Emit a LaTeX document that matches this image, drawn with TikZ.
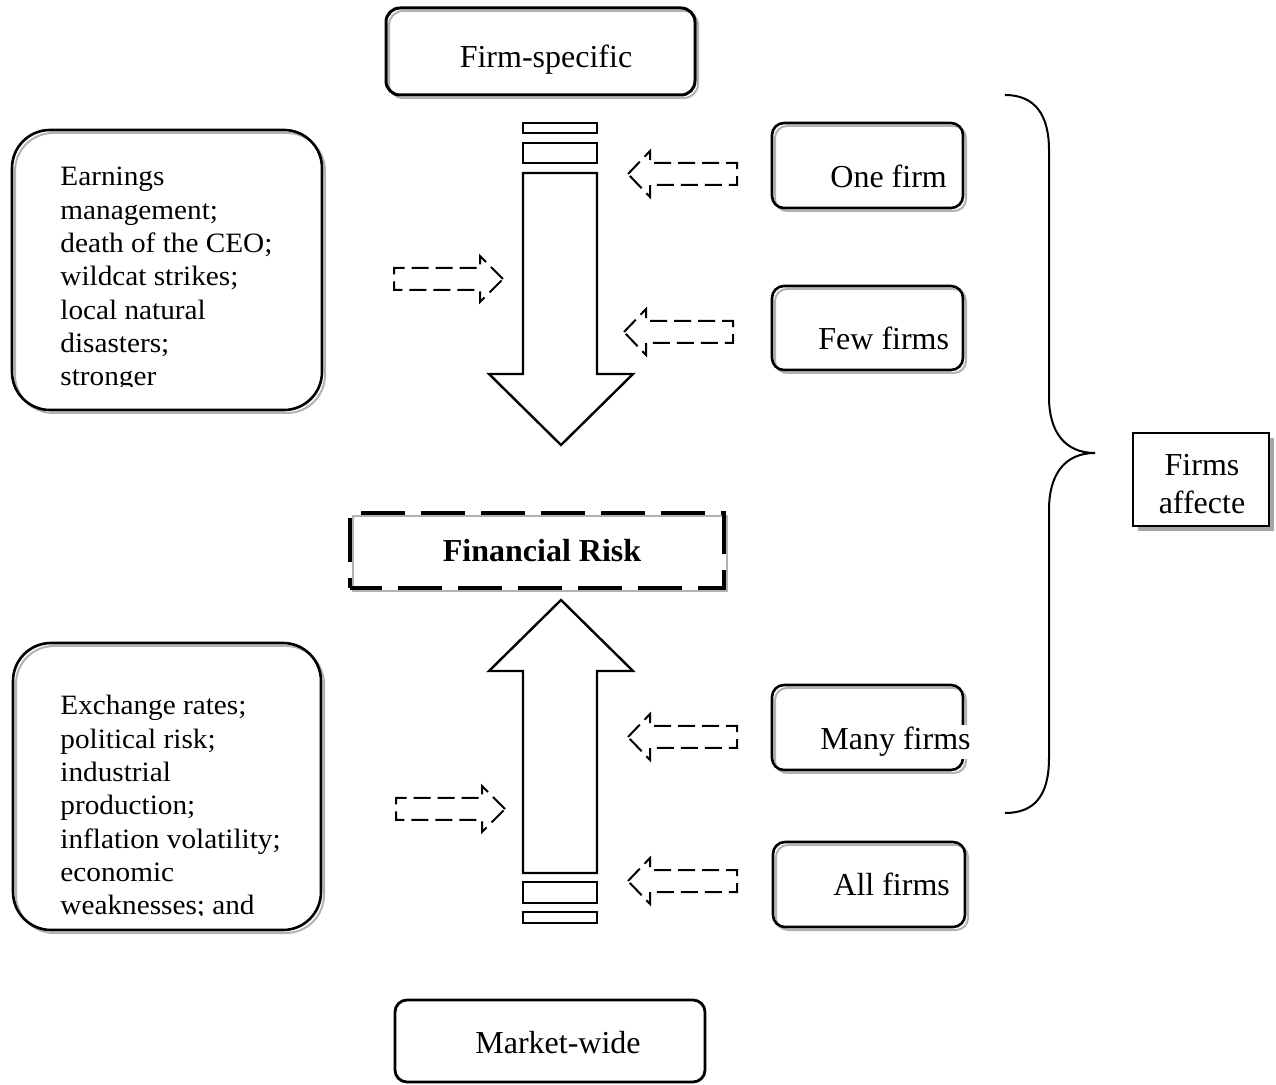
\documentclass[tikz,border=0pt]{standalone}
\usepackage{fontspec}
\setmainfont{Liberation Serif}
\newfontfamily\listfont[FakeStretch=1.045]{Liberation Serif}
\usepackage{xcolor}
\usepackage{tikz}
\usetikzlibrary{positioning}
\usetikzlibrary{shapes, arrows, shadows}

\begin{document}
\begin{tikzpicture}[
    x=0.5pt, y=-0.5pt,% one unit is one pixel of the page
    font=\fontsize{16}{19}\selectfont,
       box/.style = {draw, line width=1.3pt, rounded corners=6pt,
                     general shadow={draw=gray!60, solid, line width=1pt,
                                     shadow xshift=1.5pt, shadow yshift=-1.5pt}},% grey offset line
       txt/.style = {inner sep=0pt, anchor=base},
      list/.style = {inner sep=0pt, anchor=north west, align=left,
                     font=\listfont\fontsize{14}{16.65}\selectfont},
      hint/.style = {draw, line width=1pt, dash pattern=on 8.5pt off 3.5pt},% hollow dashed arrows
     block/.style = {draw, line width=1.2pt}
    ]
    \useasboundingbox (0,0) rectangle (1276,1085);

    % boxes
    \node (fs) [box, rounded corners=7pt, line width=1.5pt, minimum width=154.5pt, minimum height=43.5pt] at (540.5,51.5) {};
    \node (earn) [box, rounded corners=19pt, minimum width=155pt, minimum height=140pt] at (167,270) {};
    \node (exch) [box, rounded corners=19pt, minimum width=154pt, minimum height=143.5pt] at (167,786.5) {};
    \node (one) [box, minimum width=95.5pt, minimum height=42.5pt] at (867.5,165.5) {};
    \node (few) [box, minimum width=95.5pt, minimum height=42pt] at (867.5,328) {};
    \node (many) [box, minimum width=95.5pt, minimum height=42.5pt] at (867.5,727.5) {};
    \node (all) [box, minimum width=96pt, minimum height=42.5pt] at (869,884.5) {};
    \node (risk) [box, sharp corners, line width=2pt, dash pattern=on 22pt off 8pt, dash phase=6pt,
                  minimum width=187pt, minimum height=37.5pt] at (537,550.5) {};
    \node (mkt) [draw, line width=1.4pt, rounded corners=6pt,
                 minimum width=155pt, minimum height=41pt] at (550,1041) {};
    \node (aff) [draw, line width=1pt, fill=white,
                 drop shadow={shadow xshift=2.5pt, shadow yshift=-2.5pt, fill=gray!70, opacity=1},
                 minimum width=68pt, minimum height=46.5pt] at (1200.5,480) {};

    % labels
    \node (fslabel) [txt] at (546,68) {Firm-specific};
    \node (onelabel) [txt, anchor=base west] at (830,188) {One firm};
    \node (fewlabel) [txt, anchor=base west] at (818,350) {Few firms};
    \node (manylabel) [txt, anchor=base west, fill=white, inner sep=1pt] at (818,750) {Many firms};
    \node (alllabel) [txt, anchor=base west] at (833,895) {All firms};
    \node (risklabel) [txt, font=\fontsize{16}{19}\selectfont\bfseries] at (542,562) {Financial Risk};
    \node (mktlabel) [txt] at (558,1053) {Market-wide};
    \node (afflabel) [inner sep=0pt, anchor=north, align=center,
                      font=\fontsize{16}{19}\selectfont] at (1202,454) {Firms\\affecte};

    \begin{scope}
        \clip (20,140) rectangle (318,387);
        \node (earnlist) [list] at (60,167) {Earnings\\management;\\death of the CEO;\\wildcat strikes;\\local natural\\disasters;\\stronger};
    \end{scope}
    \begin{scope}
        \clip (20,650) rectangle (318,915);
        \node (exchlist) [list] at (60,695) {Exchange rates;\\political risk;\\industrial\\production;\\inflation volatility;\\economic\\weaknesses; and};
    \end{scope}

    % big arrows
    \draw[block] (523,123) rectangle (597,133);
    \draw[block] (523,143) rectangle (597,163);
    \draw[block] (523,173) -- (597,173) -- (597,374) -- (633,374) -- (561,445)
        -- (489,374) -- (523,374) -- cycle;
    \draw[block] (561,600) -- (633,671) -- (597,671) -- (597,873) -- (523,873)
        -- (523,671) -- (489,671) -- cycle;
    \draw[block] (523,882) rectangle (597,903);
    \draw[block] (523,912) rectangle (597,923);

    % dashed arrows
    \foreach \tx/\ty in {628/174, 624/332, 628/737, 628/881}
        \draw[hint, shift={(\tx,\ty)}] (0,0) -- (22,-23) -- (22,-11) -- (109,-11)
            -- (109,11) -- (22,11) -- (22,23) -- cycle;
    \foreach \tx/\ty in {503/279, 505/809}
        \draw[hint, shift={(\tx,\ty)}, xscale=-1] (0,0) -- (23,-23) -- (23,-11) -- (109,-11)
            -- (109,11) -- (23,11) -- (23,23) -- cycle;

    % brace
    \draw[line width=1pt] (1005,95) .. controls (1035,95) and (1049,115) .. (1049,150)
        -- (1049,397) .. controls (1049,432) and (1065,453) .. (1095,453)
        .. controls (1065,453) and (1049,474) .. (1049,510)
        -- (1049,758) .. controls (1049,795) and (1035,813) .. (1005,813);
\end{tikzpicture}
\end{document}
